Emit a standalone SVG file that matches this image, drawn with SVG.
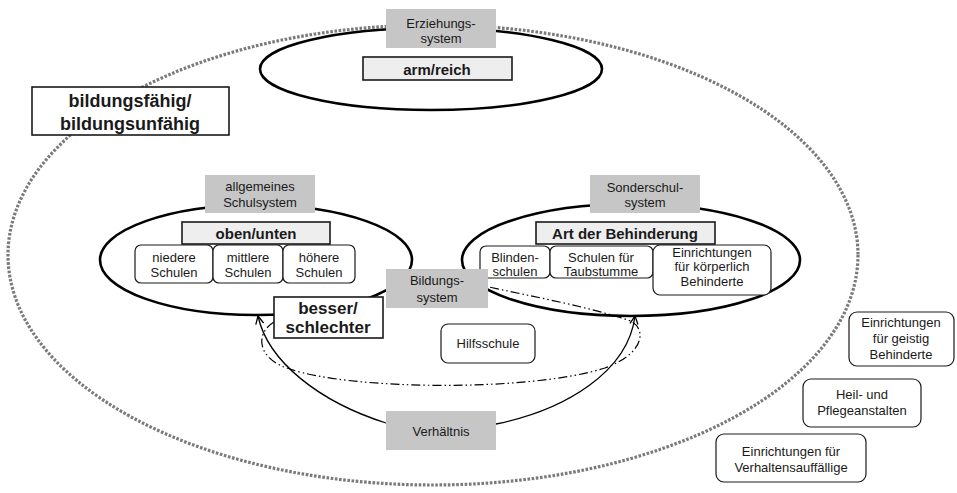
<svg xmlns="http://www.w3.org/2000/svg" width="957" height="493" viewBox="0 0 957 493">
<style>
text{font-family:"Liberation Sans",Arial,sans-serif;font-size:13px;fill:#1a1a1a;text-anchor:middle}
.b{font-weight:bold}
.grey{fill:#c6c6c6;stroke:none}
.lt{fill:#eeeeee;stroke:#1a1a1a;stroke-width:1.6}
.wb{fill:#fff;stroke:#1a1a1a;stroke-width:1.6}
.rr{fill:#fff;stroke:#1a1a1a;stroke-width:1.2}
.ell{fill:#fff;stroke:#000;stroke-width:2.6}
.con{fill:none;stroke:#000;stroke-width:1.3}
.dd{fill:none;stroke:#000;stroke-width:1.2;stroke-dasharray:9 3 1.5 3 1.5 3}
</style>
<defs>
<marker id="ah" viewBox="0 0 10 10" refX="9" refY="5" markerWidth="10" markerHeight="10" markerUnits="userSpaceOnUse" orient="auto">
<path d="M1,1 L9,5 L1,9" fill="none" stroke="#000" stroke-width="1.3"/>
</marker>
</defs>
<rect width="957" height="493" fill="#fff"/>
<ellipse id="outer" cx="433" cy="255" rx="425" ry="230" fill="none" stroke="#7a7a7a" stroke-width="3.2" stroke-dasharray="2.6 1.6"/>
<g id="erziehungssystem">
<ellipse class="ell" cx="431" cy="69" rx="171" ry="41"/>
<rect class="grey" x="386" y="9" width="110" height="39"/>
<text x="441" y="28">Erziehungs-</text>
<text x="441" y="43">system</text>
</g>
<g id="arm-reich">
<rect class="lt" x="363" y="57" width="149" height="23"/>
<text class="b" x="437" y="75" style="font-size:15px">arm/reich</text>
</g>
<g id="bildungsfaehig">
<rect class="wb" x="32" y="87" width="197" height="48"/>
<text class="b" x="130" y="107" style="font-size:18px">bildungsfähig/</text>
<text class="b" x="130" y="130" style="font-size:18px">bildungsunfähig</text>
</g>
<g id="allgemeines-schulsystem">
<ellipse class="ell" cx="256" cy="260" rx="156" ry="55"/>
<rect class="grey" x="205" y="175" width="110" height="38"/>
<text x="260" y="191">allgemeines</text>
<text x="260" y="207">Schulsystem</text>
</g>
<g id="sonderschulsystem">
<ellipse class="ell" cx="631" cy="260" rx="169" ry="56"/>
<rect class="grey" x="590" y="175" width="110" height="38"/>
<text x="645" y="192">Sonderschul-</text>
<text x="645" y="207">system</text>
</g>
<g id="oben-unten">
<rect class="lt" x="182" y="222" width="148" height="22"/>
<text class="b" x="256" y="239" style="font-size:15px">oben/unten</text>
</g>
<g id="niedere">
<rect class="rr" x="135" y="245" width="78" height="38" rx="6"/>
<text x="174" y="262">niedere</text>
<text x="174" y="277">Schulen</text>
</g>
<g id="mittlere">
<rect class="rr" x="213" y="245" width="70" height="38" rx="6"/>
<text x="248" y="262">mittlere</text>
<text x="248" y="277">Schulen</text>
</g>
<g id="hoehere">
<rect class="rr" x="283" y="245" width="72" height="38" rx="6"/>
<text x="319" y="262">höhere</text>
<text x="319" y="277">Schulen</text>
</g>
<g id="art-der-behinderung">
<rect class="lt" x="536" y="222" width="179" height="22"/>
<text class="b" x="625" y="239" style="font-size:15px">Art der Behinderung</text>
</g>
<g id="blindenschulen">
<rect class="rr" x="480" y="246" width="70" height="32" rx="6"/>
<text x="515" y="262">Blinden-</text>
<text x="515" y="276">schulen</text>
</g>
<g id="taubstumme">
<rect class="rr" x="550" y="246" width="103" height="32" rx="6"/>
<text x="601" y="262">Schulen für</text>
<text x="601" y="276">Taubstumme</text>
</g>
<g id="koerperlich">
<rect class="rr" x="653" y="245" width="118" height="50" rx="7"/>
<text x="712" y="257">Einrichtungen</text>
<text x="712" y="271">für körperlich</text>
<text x="712" y="286">Behinderte</text>
</g>
<g id="connectors">
<path class="dd" d="M274,322 C254,334 258,360 290,369 C350,390 530,392 605,368 C648,352 646,326 628,320 C585,306 530,296 489,287"/>
<path class="con" d="M386,423 C320,402 268,362 258,316" marker-end="url(#ah)"/>
<path class="con" d="M496,424 C565,410 628,372 635,316" marker-end="url(#ah)"/>
</g>
<g id="bildungssystem">
<rect class="grey" x="386" y="269" width="102" height="39"/>
<text x="437" y="285">Bildungs-</text>
<text x="437" y="302">system</text>
</g>
<g id="besser-schlechter">
<rect class="wb" x="274" y="297" width="109" height="41"/>
<text class="b" x="328" y="314" style="font-size:17px">besser/</text>
<text class="b" x="328" y="333" style="font-size:17px">schlechter</text>
</g>
<g id="hilfsschule">
<rect class="rr" x="441" y="324" width="94" height="39" rx="7"/>
<text x="488" y="348">Hilfsschule</text>
</g>
<g id="verhaeltnis">
<rect class="grey" x="386" y="411" width="110" height="39"/>
<text x="441" y="436">Verhältnis</text>
</g>
<g id="geistig">
<rect class="rr" x="849" y="312" width="105" height="54" rx="8"/>
<text x="901" y="327">Einrichtungen</text>
<text x="901" y="343">für geistig</text>
<text x="901" y="359">Behinderte</text>
</g>
<g id="heil-pflege">
<rect class="rr" x="803" y="379" width="118" height="48" rx="8"/>
<text x="862" y="399">Heil- und</text>
<text x="862" y="415">Pflegeanstalten</text>
</g>
<g id="verhaltensauffaellige">
<rect class="rr" x="716" y="434" width="150" height="48" rx="8"/>
<text x="791" y="456">Einrichtungen für</text>
<text x="791" y="472">Verhaltensauffällige</text>
</g>
</svg>
